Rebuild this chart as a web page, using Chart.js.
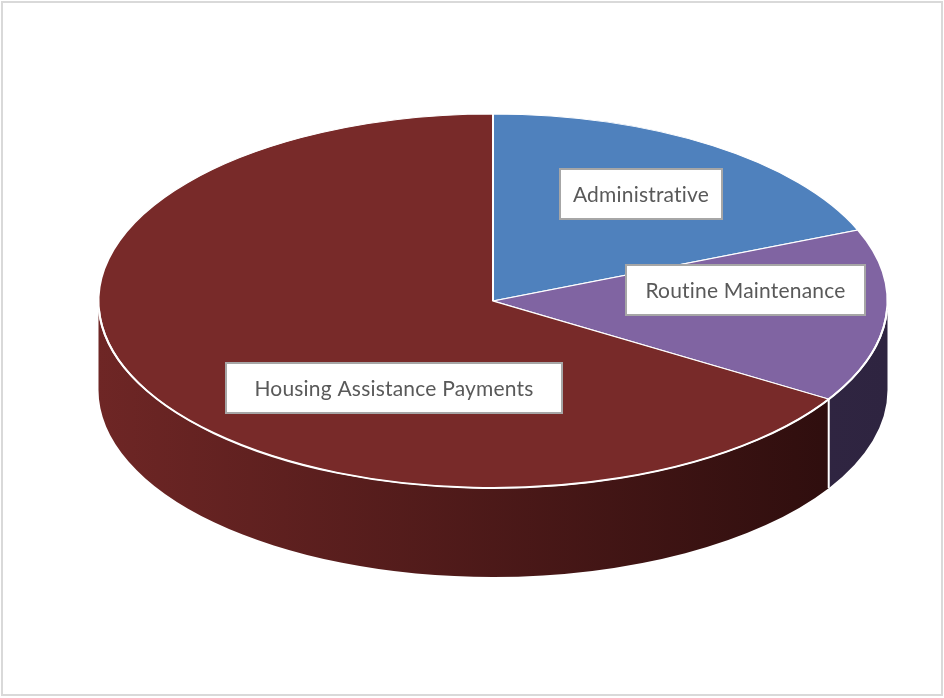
<!DOCTYPE html>
<html>
<head>
<meta charset="utf-8">
<script src="https://cdn.jsdelivr.net/npm/chart.js@4.4.1/dist/chart.umd.min.js"></script>
<style>
  html, body { margin: 0; padding: 0; background: #fff; }
  #wrap { width: 944px; height: 698px; }
</style>
</head>
<body>
<div id="wrap"><canvas id="pieChart" width="944" height="698"></canvas></div>
<script>
const categories = ['Administrative', 'Routine Maintenance', 'Housing Assistance Payments'];
const shares = [18.8, 15.0, 66.2];
const topColors = ['#4f81bd', '#8064a2', '#782a29'];
const sideColors = [
    ['#3f6796', '#2d4a6e'],
    ['#3d2f4e', '#2e2440'],
    ['#6e2625', '#2a0c0c']
];

// where the tilted pie sits on the page
const CX = 493, CY = 301, RX = 394.5, RY = 187, DEPTH = 89;
const TILT = RY / RX;

// label boxes placed by hand, like the original: x, y, w, h
const labelBoxes = [[560, 169, 162, 50], [626, 265, 239, 50], [226, 363, 336, 50]];

const tiltPlugin = {
    id: 'tilt',
    beforeDraw(chart) {
        const ctx = chart.ctx;
        ctx.save();
        ctx.fillStyle = '#fff';
        ctx.fillRect(0, 0, chart.width, chart.height);
        ctx.strokeStyle = '#d9d9d9';
        ctx.lineWidth = 2;
        ctx.strokeRect(2, 2, chart.width - 4, chart.height - 5);
        ctx.restore();
    },
    beforeDatasetsDraw(chart) {
        const ctx = chart.ctx;
        const arcs = chart.getDatasetMeta(0).data;

        // side walls, only the front half shows
        const edges = [];
        arcs.forEach((arc, i) => {
            const s = Math.max(arc.startAngle, 0);
            const e = Math.min(arc.endAngle, Math.PI);
            if (e <= s) return;
            const grad = ctx.createLinearGradient(CX - RX, 0, CX + RX, 0);
            grad.addColorStop(0, sideColors[i][0]);
            grad.addColorStop(1, sideColors[i][1]);
            ctx.save();
            ctx.beginPath();
            ctx.ellipse(CX, CY, RX, RY, 0, s, e, false);
            ctx.lineTo(CX + RX * Math.cos(e), CY + RY * Math.sin(e) + DEPTH);
            ctx.ellipse(CX, CY + DEPTH, RX, RY, 0, e, s, true);
            ctx.closePath();
            ctx.fillStyle = grad;
            ctx.fill();
            ctx.restore();
            if (s > 0) edges.push(s);
        });
        ctx.save();
        ctx.strokeStyle = '#fff';
        ctx.lineWidth = 2;
        edges.forEach(a => {
            const x = CX + RX * Math.cos(a), y = CY + RY * Math.sin(a);
            ctx.beginPath();
            ctx.moveTo(x, y);
            ctx.lineTo(x, y + DEPTH);
            ctx.stroke();
        });
        ctx.restore();

        // squash the top face into an ellipse
        ctx.save();
        ctx.translate(CX, CY);
        ctx.scale(1, TILT);
        ctx.translate(-arcs[0].x, -arcs[0].y);
    },
    afterDatasetsDraw(chart) {
        const ctx = chart.ctx;
        ctx.restore();

        // white rim along the front edge
        ctx.save();
        ctx.strokeStyle = '#fff';
        ctx.lineWidth = 2;
        ctx.beginPath();
        ctx.ellipse(CX, CY, RX, RY, 0, 0.05, Math.PI - 0.05, false);
        ctx.stroke();
        ctx.restore();

        // labels
        ctx.save();
        ctx.font = '21px Lato, "Open Sans", sans-serif';
        ctx.letterSpacing = '0.2px'; // stops the "ti" ligature
        ctx.textAlign = 'center';
        ctx.textBaseline = 'middle';
        categories.forEach((name, i) => {
            const [x, y, w, h] = labelBoxes[i];
            ctx.fillStyle = '#fff';
            ctx.fillRect(x, y, w, h);
            ctx.strokeStyle = '#a6a6a6';
            ctx.lineWidth = 2;
            ctx.strokeRect(x, y, w, h);
            ctx.fillStyle = '#595959';
            ctx.fillText(name, x + w / 2, y + h / 2 + 1);
        });
        ctx.restore();
    }
};

new Chart(document.getElementById('pieChart'), {
    type: 'pie',
    data: {
        labels: categories,
        datasets: [{
            data: shares,
            backgroundColor: topColors,
            borderColor: '#fff',
            borderWidth: 2,
            radius: RX
        }]
    },
    options: {
        responsive: false,
        devicePixelRatio: 1,
        animation: false,
        events: [],
        layout: { padding: 0 },
        plugins: {
            legend: { display: false },
            tooltip: { enabled: false }
        }
    },
    plugins: [tiltPlugin]
});
</script>
</body>
</html>
